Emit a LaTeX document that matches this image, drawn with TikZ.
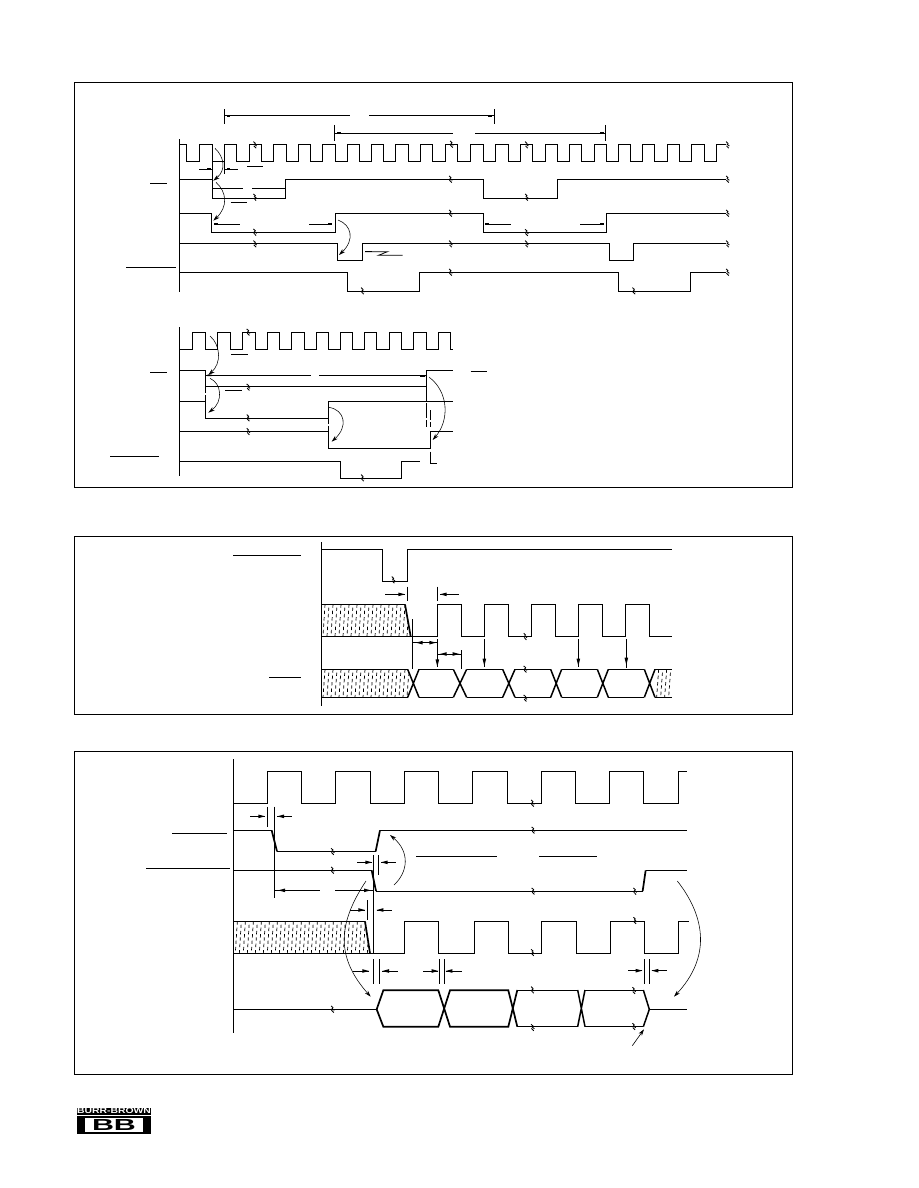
\documentclass[tikz,border=0pt]{standalone}
\usepackage{fontspec}
\setmainfont{Liberation Sans}
\usetikzlibrary{arrows.meta}
\tikzset{
  zframe/.style 2 args={shift={(#1,#2)},x=0.33333pt,y=-0.33333pt},
  sig/.style={line width=0.9pt,line join=miter,line cap=butt},
  thick edge/.style={line width=1.7pt},
  thin line/.style={line width=0.7pt},
  curve/.style={line width=0.55pt,-{Stealth[length=6.5pt,width=4pt]}},
  hatch/.style={line width=0.7pt},
  brk/.pic={
    \draw[line width=0.85pt] (-1.6pt,3.4pt) -- (0.6pt,1.4pt) (-0.9pt,1.0pt) -- (1.7pt,-1.0pt) (-1.2pt,-0.8pt) -- (1.1pt,-3.2pt);
  }
}
% filled arrow tips, in the frame's zoomed units
\newcommand{\tipR}[2]{\fill (#1-20,#2-5.5) -- (#1,#2) -- (#1-20,#2+5.5) -- cycle;}
\newcommand{\tipL}[2]{\fill (#1+20,#2-5.5) -- (#1,#2) -- (#1+20,#2+5.5) -- cycle;}
\newcommand{\tipD}[2]{\fill (#1-5.5,#2-22) -- (#1,#2) -- (#1+5.5,#2-22) -- cycle;}
% hatch block: x0, x1, ytop, ybottom (in the frame's zoomed units)
\newcommand{\hatchblock}[4]{%
  \begin{scope}
    \clip (#1,#3) rectangle (#2,#4);
    \foreach \q [count=\n] in {-4,8,...,#2} {
      \pgfmathsetmacro{\qx}{#1+\q}
      \pgfmathsetmacro{\ph}{mod(\n,2)*3.2}
      \ifdim\qx pt<#2pt\relax
      \draw[hatch,dash pattern=on 3.4pt off 3pt,dash phase=\ph pt] (\qx+3,#3) -- (\qx-3,#4);
      \fi
    }
  \end{scope}%
}
\begin{document}
\begin{tikzpicture}[x=1pt,y=-1pt]
\useasboundingbox (0,0) rectangle (918,1188);
\fill[white] (0,0) rectangle (918,1188);
% panel frames
\draw[line width=0.9pt] (74.5,82) rectangle (792.5,487.5);
\draw[line width=0.9pt] (74.5,536) rectangle (792.5,714);
\draw[line width=0.9pt] (74.5,751.5) rectangle (792.5,1074);

% ---------- panel 1, upper part ----------
\begin{scope}[zframe={120}{90}]
\draw[sig] (178,148) -- (178,605);
\draw[sig] (178,163) -| (200,214) -| (239,163) -| (278,214) -| (313,163) -| (350,214) -| (388,163) -| (424,214) -| (461,163) -| (499,214) -| (535,163) -| (572,214) -| (608,163) -| (646,214) -| (683,163) -| (718,214) -| (755,163) -| (790,214) -| (826,163) -| (865,214) -| (902,163) -| (937,214) -| (976,163) -| (1012,214) -| (1051,163) -| (1090,214) -| (1126,163) -| (1165,214) -| (1202,163) -| (1237,214) -| (1276,163) -| (1312,214) -| (1348,163) -| (1384,214) -| (1423,163) -| (1459,214) -| (1495,163) -| (1531,214) -| (1567,163) -| (1603,214) -| (1642,163) -| (1678,214) -| (1714,163) -| (1753,214) -| (1789,163) -- (1818,163);
\draw[sig] (178,268) -| (277,325) -| (497,268) -| (1090,325) -| (1312,268) -- (1818,268);
\draw[sig] (178,370) -| (275,427) -| (646,370) -| (1090,427) -| (1459,370) -- (1818,370);
\draw[sig] (178,460) -| (653,511) -| (727,460) -| (1468,511) -| (1540,460) -- (1818,460);
\draw[sig] (178,547) -| (683,604) -| (898,547) -| (1495,604) -| (1711,547) -- (1818,547);
% overbars
\draw[thin line] (90,280) -- (141,280) (18,532) -- (168,532) (382,229) -- (428,229) (332,337) -- (381,337);
% top dimension lines
\draw[thin line] (313,58) -- (313,101) (1123,58) -- (1123,101);
\draw[thin line] (313,76) -- (690,76) (747,76) -- (1123,76);
\draw[thin line] (643,105) -- (643,152) (1456,105) -- (1456,152);
\draw[thin line] (643,130) -- (998,130) (1065,130) -- (1456,130);
% small timing marks
\draw[thin line] (277,214) -- (277,268);
\draw[sig] (313,214) -- (313,252);
\draw[thin line] (238,238) -- (277,238) (313,238) -- (353,238);
\draw[thin line] (277,296) -- (369,296) (396,296) -- (497,296);
\draw[thin line] (283,402) -- (360,402) (567,402) -- (636,402);
\draw[thin line] (1095,402) -- (1173,402) (1380,402) -- (1452,402);
\draw[thin line] (848,496) -- (775,496) -- (803,485) -- (735,485);
\foreach \xa/\xb/\yy in {320/330/78,1105/1117/78,650/662/128,1440/1452/128,289/297/296,480/488/296,283/295/402,625/636/402,1095/1107/402,1440/1452/402,260/272/238,320/330/238,735/755/485}
  \fill (\xa,\yy-2.5) rectangle (\xb,\yy+2.5);
% curves
\draw[curve] (285,175) .. controls (312,200) and (320,240) .. (280,272);
\draw[curve] (288,277) .. controls (320,305) and (325,350) .. (280,392);
\draw[curve] (654,390) .. controls (695,405) and (705,450) .. (657,495);
% breaks
\foreach \bx/\by in {405/165,995/163,1220/165,1823/165,405/322,1220/322,992/268,1823/268,405/427,1220/428,992/370,1823/370,405/462,992/462,1220/462,1823/462,728/603,992/547,1542/603,1823/547}
  \pic at (\bx,\by) {brk};
\end{scope}

% ---------- panel 1, lower part ----------
\begin{scope}[zframe={100}{320}]
\draw[sig] (239,22) -- (239,467);
\draw[sig] (239,88) -| (278,37) -| (316,88) -| (352,37) -| (391,88) -| (427,37) -| (465,88) -| (502,37) -| (539,88) -| (575,37) -| (612,88) -| (648,37) -| (684,88) -| (720,37) -| (757,88) -| (793,37) -| (830,88) -| (868,37) -| (905,88) -| (941,37) -| (980,88) -| (1015,37) -| (1052,88) -- (1060,88);
\draw[sig] (239,152) -| (316,199) -| (980,152) -- (1060,152);
\draw[sig] (239,244) -| (316,296) -| (685,244) -- (1060,244);
\draw[sig] (239,334) -| (685,385) -| (991,334) -- (1060,334);
\draw[sig] (239,425) -| (722,475) -| (905,425) -- (960,425);
\draw[thin line] (991,395) |- (1010,430);
\draw[thin line] (316,166) -- (632,166) (657,166) -- (980,166);
\fill (322,163.5) rectangle (335,168.5) (960,165.5) rectangle (975,170.5);
\draw[thin line] (150,157) -- (200,157) (30,409) -- (176,409) (393,102) -- (443,102) (375,212) -- (425,212) (1112,154) -- (1162,154);
\draw[thin line,dash pattern=on 7pt off 2pt] (316,199) -- (316,244);
\draw[thin line,dash pattern=on 5pt off 2pt] (685,296) -- (685,334);
\draw[thin line,dash pattern=on 15pt off 2pt] (980,199) -- (980,320);
\draw[thin line,dash pattern=on 10pt off 2pt] (991,270) -- (991,320);
\draw[curve] (330,48) .. controls (362,75) and (365,130) .. (325,165);
\draw[curve] (330,175) .. controls (365,190) and (370,245) .. (325,278);
\draw[curve] (687,262) .. controls (735,270) and (745,320) .. (695,365);
\draw[curve] (988,172) .. controls (1045,215) and (1050,300) .. (998,360);
\foreach \bx/\by in {445/37,445/202,445/294,445/335,788/474}
  \pic at (\bx,\by) {brk};
\end{scope}

% ---------- panel 2 ----------
\begin{scope}[zframe={220}{535}]
\hatchblock{304}{566}{208}{304}
\hatchblock{304}{566}{403}{487}
\fill[white] (555,207) -- (580,207) -- (580,304) -- (572,304) -- cycle;
\fill[white] (563,402) -- (597,402) -- (580,445) -- cycle;
\fill[white] (563,488) -- (597,488) -- (580,445) -- cycle;
\hatchblock{1305}{1355}{403}{487}
\draw[sig] (304,22) -- (304,512);
\draw[sig] (304,43) -| (488,139) -| (562,43) -- (1355,43);
\draw[sig] (304,208) -- (555,208);
\draw[sig] (304,304) -- (572,304);
\draw[thick edge] (555,208) -- (572,304);
\draw[sig] (572,304) -| (652,208) -| (724,304) -| (793,208) -| (865,304) -| (934,208) -| (1006,304) -| (1075,208) -| (1147,304) -| (1216,208) -| (1288,304) -- (1355,304);
\draw[sig] (304,403) -- (563,403) (304,487) -- (563,487);
\foreach \xa/\xb in {597/700,740/848,885/992,1025/1132,1165/1273} {
  \draw[sig] (\xa,403) -- (\xb,403) (\xa,487) -- (\xb,487);
}
\foreach \xa/\xb in {563/597,700/740,848/885,992/1025,1132/1165,1273/1305} {
  \draw[line width=1.5pt] (\xa,403) -- (\xb,487) (\xa,487) -- (\xb,403);
}
\draw[sig] (1305,403) -- (1355,403) (1305,487) -- (1355,487);
\draw[thin line] (40,61) -- (243,61) (148,427) -- (243,427);
\draw[thin line] (563,155) -- (563,197) (652,155) -- (652,197);
\draw[thin line] (495,178) -- (555,178) (660,178) -- (717,178);
\tipR{555}{178} \tipL{660}{178}
\draw[thin line] (578,252) -- (578,403);
\draw[thin line] (724,345) -- (724,403);
\draw[thin line] (652,312) -- (652,395);
\tipD{652}{395}
\draw[thin line] (578,323) -- (652,323) (652,357) -- (724,357);
\tipL{588}{323} \tipR{648}{323} \tipL{660}{357} \tipR{718}{357}
\draw[thin line] (793,312) -- (793,395) (1075,312) -- (1075,395) (1219,312) -- (1219,398);
\tipD{793}{393} \tipD{1075}{393} \tipD{1219}{390}
\foreach \bx/\by in {520/135,916/305,916/403,916/490}
  \pic at (\bx,\by) {brk};
\end{scope}

% ---------- panel 3 ----------
\begin{scope}[zframe={140}{755}]
\hatchblock{281}{692}{499}{595}
\fill[white] (675,498) -- (695,498) -- (695,595) -- (690,595) -- cycle;
\draw[sig] (281,12) -- (281,834);
\draw[sig] (281,145) -| (383,48) -| (485,145) -| (587,48) -| (691,145) -| (793,48) -| (896,145) -| (997,48) -| (1103,145) -| (1204,48) -| (1307,145) -| (1409,48) -| (1511,145) -| (1615,48) -- (1640,48);
\draw[sig] (281,226) -- (395,226);
\draw[thick edge] (395,226) -- (411,289);
\draw[sig] (411,289) -- (707,289);
\draw[thick edge] (707,289) -- (720,226);
\draw[sig] (720,226) -- (1640,226);
\draw[sig] (281,346) -- (695,346);
\draw[thick edge] (695,346) -- (708,408);
\draw[sig] (708,408) -- (1508,408);
\draw[thick edge] (1508,408) -- (1517,346);
\draw[sig] (1517,346) -- (1640,346);
\draw[thin line] (97,235) -- (261,235) (18,341) -- (270,341) (828,304) -- (1071,304) (1197,304) -- (1370,304);
\draw[thin line] (383,155) -- (383,215) (403,155) -- (403,430);
\draw[thin line] (330,184) -- (375,184) (412,184) -- (455,184);
\tipR{375}{184} \tipL{412}{184}
\draw[thin line] (403,406) -- (540,406) (585,406) -- (700,406);
\tipL{415}{406} \tipR{692}{406}
\draw[thin line] (700,300) -- (700,595) (716,300) -- (716,360) (683,435) -- (683,495);
\draw[thin line] (651,322) -- (696,322) (723,322) -- (767,322);
\tipR{696}{322} \tipL{723}{322}
\draw[thin line] (630,465) -- (675,465) (710,465) -- (755,465);
\tipR{675}{465} \tipL{710}{465}
\draw[thin line] (701,612) -- (701,687) (718,612) -- (718,687) (898,612) -- (898,687) (913,612) -- (913,687) (1513,612) -- (1513,687) (1528,612) -- (1528,687);
\draw[thin line] (640,648) -- (687,648) (727,648) -- (773,648) (850,648) -- (895,648) (917,648) -- (965,648) (1465,647) -- (1507,647) (1535,647) -- (1580,647);
\tipR{687}{648} \tipL{727}{648} \tipR{895}{648} \tipL{917}{648} \tipR{1507}{647} \tipL{1535}{647}
\draw[curve] (762,390) .. controls (805,350) and (810,290) .. (750,240);
\draw[curve] (678,378) .. controls (590,510) and (590,610) .. (692,725);
\draw[curve] (1612,378) .. controls (1700,490) and (1710,610) .. (1602,725);
\draw[curve,line width=0.6pt] (1477,872) -- (1512,823);
% second clock
\draw[sig] (281,499) -- (675,499);
\draw[sig] (281,595) -- (690,595);
\draw[thick edge] (675,499) -- (690,595);
\draw[sig] (690,595) -| (793,499) -| (896,595) -| (1004,499) -| (1105,595) -| (1204,499) -| (1309,595) -| (1411,499) -| (1513,595) -| (1615,499) -- (1647,499);
% data bus
\draw[sig] (281,763) -- (710,763);
\draw[thick edge] (710,763) -- (730,706) -- (895,706) -- (930,815) -- (1105,815) -- (1132,705);
\draw[thick edge] (710,763) -- (730,815) -- (895,815) -- (930,706) -- (1105,706) -- (1132,815);
\draw[sig] (1132,705) -- (1313,705) (1132,815) -- (1313,815);
\draw[line width=1.5pt] (1313,705) -- (1335,815) (1313,815) -- (1335,705);
\draw[sig] (1335,705) -- (1510,705) (1335,815) -- (1510,815);
\draw[line width=1.5pt] (1510,705) -- (1528,763) -- (1510,815);
\draw[sig] (1528,763) -- (1642,763);
\foreach \bx/\by in {578/290,578/346,1180/409,1485/409,1180/226,1178/145,1178/593,1485/497,578/763,1178/705,1178/818,1482/707,1482/815}
  \pic at (\bx,\by) {brk};
\end{scope}

% ---------- logo ----------
\fill[black] (77,1107.5) rectangle (151,1114.5);
\fill[black] (77,1116) rectangle (151,1133.5);
\fill[white] (85,1118) rectangle (143,1131.5);
\node[inner sep=0pt,text=white,xscale=1.3,transform shape,font=\bfseries\fontsize{8pt}{8pt}\selectfont] (logotext) at (114,1111) {BURR-BROWN};
\node[inner sep=0pt,text=black,xscale=1.9,transform shape,font=\bfseries\fontsize{16pt}{16pt}\selectfont] (logobb) at (114,1124.8) {BB};
\end{tikzpicture}
\end{document}
